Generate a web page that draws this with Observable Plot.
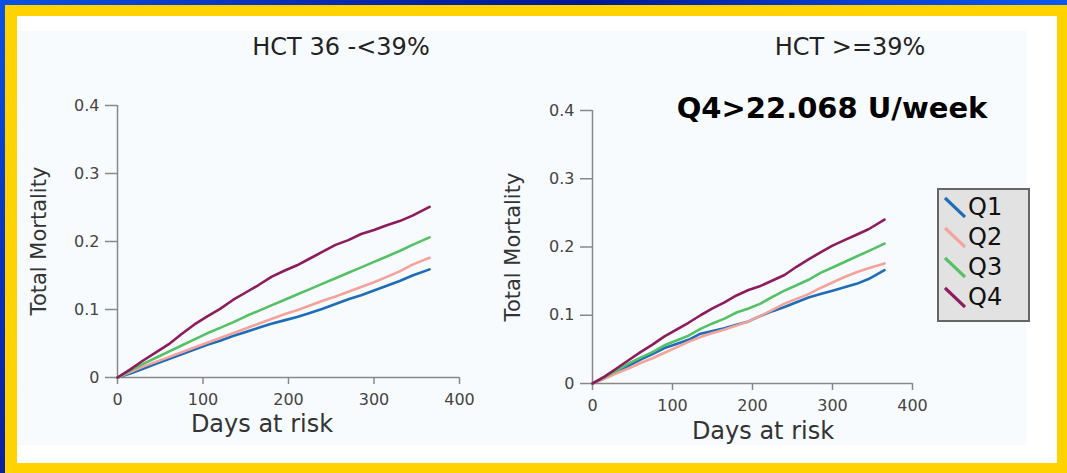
<!DOCTYPE html>
<html>
<head>
<meta charset="utf-8">
<script src="https://cdn.jsdelivr.net/npm/d3@7"></script>
<script src="https://cdn.jsdelivr.net/npm/@observablehq/plot@0.6"></script>
<style>
  body { margin: 0; background: #fff; }
  #frame { position: relative; width: 1067px; height: 473px; overflow: hidden;
    background: linear-gradient(90deg, #0b52e4 0%, #0a2ab0 30%, #001790 55%, #0a3fd0 80%, #0b58f0 100%); }
  #leftStrip { position: absolute; left: 0; top: 0; width: 6px; height: 473px;
    background: linear-gradient(180deg, #0b52e4 0%, #0a35c0 50%, #0a1f9e 100%); }
  #yellow { position: absolute; left: 5px; top: 5px; right: 0; bottom: 0; background: #ffd200; }
  #white { position: absolute; left: 17px; top: 16px; width: 1040px; height: 447px; background: #ffffff; }
  #faint { position: absolute; left: 17px; top: 31px; width: 1010px; height: 414px; background: #f8fbfd; }
  .t { position: absolute; font-family: "DejaVu Sans", sans-serif; line-height: 1; white-space: nowrap;
       transform: translate(-50%, -50%); color: #222; }
  .plot { position: absolute; }
  #legend { position: absolute; left: 937px; top: 188px; width: 89px; height: 128px;
    background: #e2e2e2; border: 2px solid #666; box-sizing: content-box; padding-top: 2px; }
  .lrow { height: 30px; display: flex; align-items: center; font-family: "DejaVu Sans", sans-serif;
    font-size: 24px; color: #111; }
  .lrow svg { margin-left: 5px; margin-right: 2px; }
</style>
</head>
<body>
<div id="frame">
  <div id="leftStrip"></div>
  <div id="yellow"></div>
  <div id="white"></div>
  <div id="faint"></div>
</div>
<script>
// ---------- data ----------
const seriesNames = ["Q1", "Q2", "Q3", "Q4"];
const seriesColors = ["#1f6cb8", "#f4a39c", "#55c066", "#8c1c5e"];
const days = [0, 15, 30, 45, 60, 75, 90, 105, 120, 135, 150, 165, 180, 195, 210, 225, 240, 255, 270, 285, 300, 315, 330, 345, 365];

// Panel 1: HCT 36 -<39%
const leftQ1 = [0, 0.006, 0.013, 0.020, 0.027, 0.034, 0.041, 0.048, 0.054, 0.061, 0.067, 0.073, 0.079, 0.084, 0.089, 0.095, 0.101, 0.108, 0.115, 0.121, 0.128, 0.135, 0.142, 0.150, 0.159];
const leftQ2 = [0, 0.008, 0.016, 0.023, 0.030, 0.037, 0.044, 0.051, 0.058, 0.065, 0.072, 0.079, 0.086, 0.093, 0.099, 0.106, 0.113, 0.119, 0.126, 0.133, 0.140, 0.148, 0.156, 0.166, 0.176];
const leftQ3 = [0, 0.010, 0.020, 0.029, 0.038, 0.047, 0.056, 0.065, 0.073, 0.081, 0.090, 0.098, 0.106, 0.114, 0.122, 0.130, 0.138, 0.146, 0.154, 0.162, 0.170, 0.178, 0.186, 0.195, 0.206];
const leftQ4 = [0, 0.012, 0.025, 0.037, 0.049, 0.064, 0.078, 0.090, 0.101, 0.114, 0.125, 0.136, 0.148, 0.157, 0.165, 0.175, 0.185, 0.195, 0.202, 0.211, 0.217, 0.224, 0.230, 0.238, 0.251];

// Panel 2: HCT >=39%
const rightQ1 = [0, 0.008, 0.017, 0.026, 0.035, 0.043, 0.052, 0.058, 0.064, 0.073, 0.077, 0.081, 0.086, 0.091, 0.099, 0.106, 0.112, 0.119, 0.126, 0.131, 0.136, 0.141, 0.146, 0.153, 0.166];
const rightQ2 = [0, 0.007, 0.015, 0.022, 0.030, 0.037, 0.045, 0.053, 0.061, 0.068, 0.074, 0.079, 0.085, 0.091, 0.099, 0.108, 0.117, 0.124, 0.131, 0.140, 0.148, 0.156, 0.163, 0.169, 0.176];
const rightQ3 = [0, 0.009, 0.019, 0.029, 0.038, 0.046, 0.056, 0.063, 0.070, 0.080, 0.088, 0.095, 0.104, 0.110, 0.117, 0.127, 0.136, 0.144, 0.152, 0.162, 0.170, 0.178, 0.186, 0.194, 0.205];
const rightQ4 = [0, 0.010, 0.022, 0.034, 0.046, 0.057, 0.069, 0.079, 0.089, 0.100, 0.110, 0.119, 0.129, 0.137, 0.143, 0.151, 0.159, 0.171, 0.182, 0.192, 0.202, 0.210, 0.218, 0.226, 0.240];

const xTicks = [0, 100, 200, 300, 400];
const yTicks = [0, 0.1, 0.2, 0.3, 0.4];
const titles = ["HCT 36 -<39%", "HCT >=39%"];
const xLabel = "Days at risk";
const yLabel = "Total Mortality";
const noteText = "Q4>22.068 U/week";

// ---------- build ----------
function rows(series) {
  const out = [];
  series.forEach((vals, i) => vals.forEach((v, j) => out.push({day: days[j], mort: v, q: seriesNames[i]})));
  return out;
}

function panel(data, opts) {
  return Plot.plot({
    width: opts.width, height: opts.height,
    marginLeft: opts.ml, marginRight: opts.mr, marginTop: opts.mt, marginBottom: opts.mb,
    style: {background: "transparent", fontFamily: "DejaVu Sans, sans-serif", fontSize: "16px", color: "#444"},
    x: {domain: [0, 400]},
    y: {domain: [0, 0.4]},
    color: {domain: seriesNames, range: seriesColors},
    marks: [
      Plot.axisX({ticks: xTicks, tickSize: 7, tickPadding: 9, tickFormat: d => String(d), label: null, stroke: "#888", strokeWidth: 1.5}),
      Plot.axisY({ticks: yTicks, tickSize: 12, tickPadding: 6, tickFormat: d => String(d), label: null, stroke: "#888", strokeWidth: 1.5}),
      Plot.ruleY([0], {x1: 0, x2: 400, stroke: "#888", strokeWidth: 1.5}),
      Plot.ruleX([0], {y1: 0, y2: 0.4, stroke: "#888", strokeWidth: 1.5}),
      Plot.line(data, {x: "day", y: "mort", z: "q", stroke: "q", strokeWidth: 2.6})
    ]
  });
}

const frame = document.getElementById("frame");

const p1 = panel(rows([leftQ1, leftQ2, leftQ3, leftQ4]), {width: 460, height: 360, ml: 97, mr: 21, mt: 25, mb: 63});
p1.classList.add("plot"); p1.style.left = "20px"; p1.style.top = "80px";
frame.appendChild(p1);

const p2 = panel(rows([rightQ1, rightQ2, rightQ3, rightQ4]), {width: 440, height: 360, ml: 92, mr: 28, mt: 25, mb: 62});
p2.classList.add("plot"); p2.style.left = "500px"; p2.style.top = "85px";
frame.appendChild(p2);

function addText(txt, x, y, size, extra) {
  const d = document.createElement("div");
  d.className = "t";
  d.textContent = txt;
  d.style.left = x + "px"; d.style.top = y + "px"; d.style.fontSize = size + "px";
  if (extra) Object.assign(d.style, extra);
  frame.appendChild(d);
  return d;
}

addText(titles[0], 341, 47, 24);
addText(titles[1], 850, 47, 24);
addText(xLabel, 262, 424, 24, {color: "#333"});
addText(xLabel, 763, 431, 24, {color: "#333"});
addText(yLabel, 39, 241, 21, {transform: "translate(-50%, -50%) rotate(-90deg)", color: "#333"});
addText(yLabel, 513, 247, 21, {transform: "translate(-50%, -50%) rotate(-90deg)", color: "#333"});
addText(noteText, 832, 108, 29, {fontWeight: "bold", color: "#000"});

// legend
const legend = document.createElement("div");
legend.id = "legend";
seriesNames.forEach((name, i) => {
  const row = document.createElement("div");
  row.className = "lrow";
  const ns = "http://www.w3.org/2000/svg";
  const svg = document.createElementNS(ns, "svg");
  svg.setAttribute("width", 22); svg.setAttribute("height", 22);
  const ln = document.createElementNS(ns, "line");
  ln.setAttribute("x1", 1); ln.setAttribute("y1", 2); ln.setAttribute("x2", 21); ln.setAttribute("y2", 21);
  ln.setAttribute("stroke", seriesColors[i]); ln.setAttribute("stroke-width", 3.2);
  svg.appendChild(ln);
  const lab = document.createElement("span");
  lab.textContent = name;
  row.appendChild(svg); row.appendChild(lab);
  legend.appendChild(row);
});
frame.appendChild(legend);
</script>
</body>
</html>
